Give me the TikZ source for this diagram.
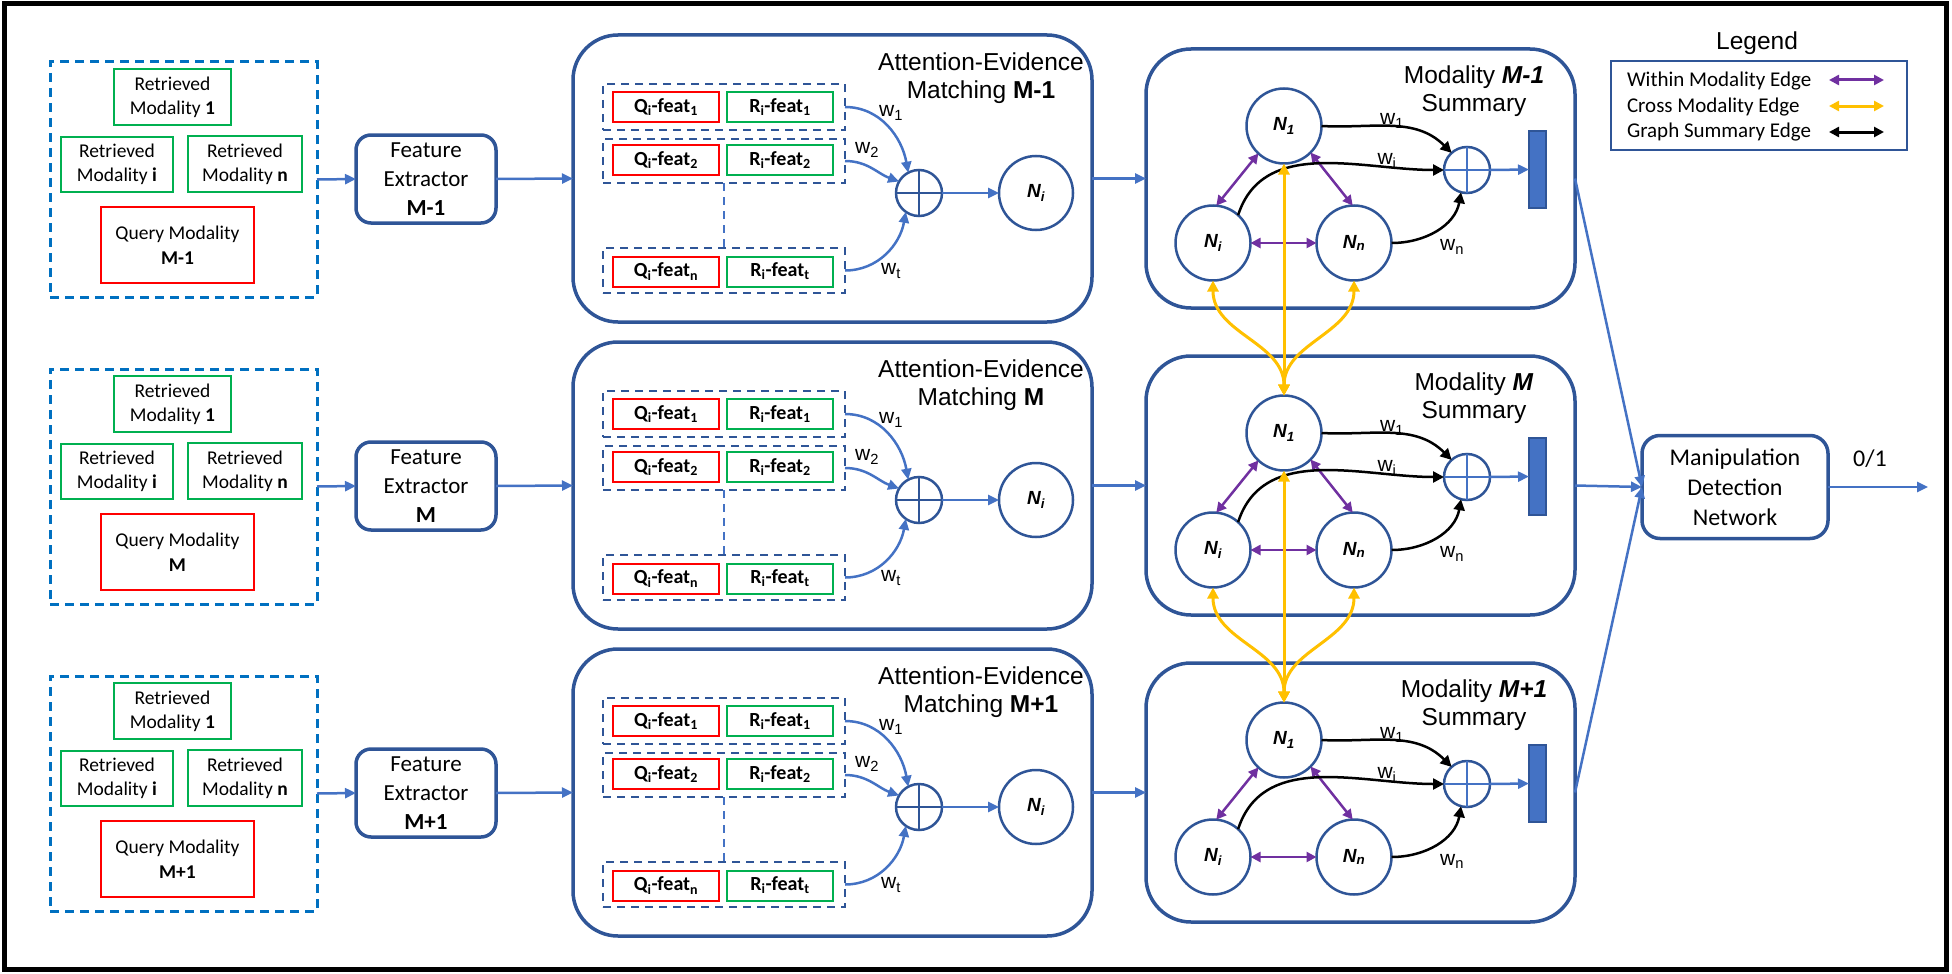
\documentclass[tikz,border=0pt]{standalone}
\usepackage{fontspec}
\setmainfont{Carlito}
\newfontfamily\arial{Liberation Sans}
\usetikzlibrary{arrows.meta}
\definecolor{dblue}{HTML}{2F5597}
\definecolor{ablue}{HTML}{4472C4}
\definecolor{lblue}{HTML}{0070C0}
\definecolor{qred}{HTML}{FF0000}
\definecolor{rgreen}{HTML}{00B050}
\definecolor{purp}{HTML}{7030A0}
\definecolor{yell}{HTML}{FFC000}
\begin{document}
\begin{tikzpicture}[x=1pt,y=1pt,
  every node/.style={inner sep=0pt, outer sep=0pt},
  dbox/.style={draw=lblue, line width=3pt, dash pattern=on 9pt off 6pt, minimum width=267pt, minimum height=235pt},
  gbox/.style={draw=rgreen, line width=2pt, align=center, font=\fontsize{19.5}{24}\selectfont},
  qmbox/.style={draw=qred, line width=2pt, align=center, minimum width=153pt, minimum height=76pt, font=\fontsize{19.5}{25}\selectfont},
  febox/.style={draw=dblue, line width=3.5pt, rounded corners=15pt, minimum width=140pt, minimum height=88pt, align=center, font=\fontsize{23}{29}\selectfont},
  bigbox/.style={draw=dblue, line width=3.5pt, rounded corners=45pt},
  ttl/.style={align=center, font=\arial\fontsize{24.5}{28.5}\selectfont},
  frow/.style={draw=dblue, line width=2.5pt, dash pattern=on 8pt off 6pt, minimum width=242pt},
  qbox/.style={draw=qred, line width=2pt, minimum width=106pt, minimum height=30pt, font=\fontsize{20}{24}\selectfont\bfseries},
  rfbox/.style={draw=rgreen, line width=2pt, minimum width=106pt, minimum height=30pt, font=\fontsize{20}{24}\selectfont\bfseries},
  pluscirc/.style={circle, draw=dblue, line width=2.5pt, minimum size=46pt},
  ncirc/.style={circle, draw=dblue, line width=2.5pt, minimum size=74pt, font=\arial\fontsize{19}{19}\selectfont\bfseries\itshape},
  barrow/.style={draw=ablue, line width=2.5pt, -{Triangle[length=11pt,width=10pt]}},
  karrow/.style={draw=black, line width=2.5pt, -{Triangle[length=11pt,width=11pt]}},
  parrow/.style={draw=purp, line width=2.5pt, {Triangle[length=10pt,width=10pt]}-{Triangle[length=10pt,width=10pt]}},
  yarrow/.style={draw=yell, line width=3pt, {Triangle[length=11pt,width=11pt]}-{Triangle[length=11pt,width=11pt]}},
  larrow/.style={line width=3pt, {Triangle[length=10pt,width=10pt]}-{Triangle[length=10pt,width=10pt]}},
  wlab/.style={font=\arial\fontsize{21}{21}\selectfont},
  ]
\useasboundingbox (0,0) rectangle (1952,-974);
\draw[line width=5pt] (4,-4) rectangle (1946,-969);

\foreach \r/\lab in {0/M-1,1/M,2/M+1}{
\begin{scope}[yshift={-307pt*\r}]
  % input modalities
  \node[dbox] (db\r) at (183.5,-179.5) {};
  \node[gbox, minimum width=117pt, minimum height=56pt] (ra\r) at (172.5,-97) {Retrieved\\Modality \textbf{1}};
  \node[gbox, minimum width=112pt, minimum height=55pt] (rb\r) at (117,-164.5) {Retrieved\\Modality \textbf{i}};
  \node[gbox, minimum width=114pt, minimum height=56pt] (rc\r) at (245,-164) {Retrieved\\Modality \textbf{n}};
  \node[qmbox] (qm\r) at (177.5,-245) {Query Modality\\\textbf{\lab}};
  % feature extractor
  \node[febox] (fe\r) at (426,-179) {Feature\\Extractor\\\textbf{\lab}};
  % attention evidence matching
  \node[bigbox, minimum width=519pt, minimum height=287pt] (att\r) at (832.5,-178.5) {};
  \node[ttl] (at\r) at (981,-78) {Attention-Evidence\\Matching \textbf{\lab}};
  \node[frow, minimum height=46pt] (fa\r) at (724,-107) {};
  \node[frow, minimum height=44pt] (fb\r) at (724,-161) {};
  \node[frow, minimum height=45pt] (fc\r) at (724,-270.5) {};
  \node[qbox] (qa\r) at (666,-107) {Q\textsubscript{i}-feat\textsubscript{1}};
  \node[rfbox] (sa\r) at (780,-107) {R\textsubscript{i}-feat\textsubscript{1}};
  \node[qbox] (qb\r) at (666,-160) {Q\textsubscript{i}-feat\textsubscript{2}};
  \node[rfbox] (sb\r) at (780,-160) {R\textsubscript{i}-feat\textsubscript{2}};
  \node[qbox] (qc\r) at (666,-271.5) {Q\textsubscript{i}-feat\textsubscript{n}};
  \node[rfbox] (sc\r) at (780,-271.5) {R\textsubscript{i}-feat\textsubscript{t}};
  \draw[ablue, line width=2.5pt, dash pattern=on 8pt off 6pt] (fb\r.south) -- (fc\r.north);
  \node[pluscirc] (pl\r) at (919,-193) {};
  \draw[dblue, line width=2.5pt] (pl\r.north) -- (pl\r.south) (pl\r.west) -- (pl\r.east);
  \node[ncirc] (na\r) at (1036,-193) {N\textsubscript{i}};
  \draw[barrow] (fa\r.east) to[out=0,in=100] (pl\r.118);
  \draw[barrow] (fb\r.east) to[out=0,in=160] (pl\r.150);
  \draw[barrow] (fc\r.east) to[out=0,in=-100] (pl\r.235);
  \node[wlab] (wa\r) at (891,-113) {w\textsubscript{1}};
  \node[wlab] (wb\r) at (867,-150) {w\textsubscript{2}};
  \node[wlab] (wc\r) at (891,-271) {w\textsubscript{t}};
  \draw[barrow] (pl\r.east) -- (na\r.west);
  % summary graph
  \node[bigbox, minimum width=429pt, minimum height=259pt] (sum\r) at (1360.5,-178.5) {};
  \node[ttl] (st\r) at (1474,-91) {Modality \textbf{\textit{\lab}}\\Summary};
  \node[ncirc, minimum size=75pt] (nf\r) at (1284,-126) {N\textsubscript{1}};
  \node[ncirc, minimum size=75pt] (ni\r) at (1213,-243) {N\textsubscript{i}};
  \node[ncirc, minimum size=75pt] (nn\r) at (1354,-243) {N\textsubscript{n}};
  \node[pluscirc] (ps\r) at (1467,-170) {};
  \draw[ablue, line width=2.5pt] (ps\r.north) -- (ps\r.south) (ps\r.west) -- (ps\r.east);
  \node[draw=dblue, fill=ablue, line width=1.5pt, minimum width=17pt, minimum height=77pt] (bar\r) at (1537.5,-169.5) {};
  \draw[barrow] (ps\r.east) -- (bar\r.west);
  \draw[parrow] (nf\r.227) -- (ni\r.85);
  \draw[parrow] (nf\r.-45) -- (nn\r.92);
  \draw[parrow] (ni\r.east) -- (nn\r.west);
  \draw[karrow] (nf\r.east) to[out=-3,in=135] (ps\r.132);
  \draw[karrow] (ni\r.48) to[out=72,in=180] (ps\r.west);
  \draw[karrow] (nn\r.east) to[out=0,in=-100] (ps\r.-105);
  \node[wlab] (ka\r) at (1392,-121) {w\textsubscript{1}};
  \node[wlab] (kb\r) at (1387,-161) {w\textsubscript{i}};
  \node[wlab] (kc\r) at (1452,-247) {w\textsubscript{n}};
  % flow
  \draw[barrow] (db\r.east) -- (fe\r.west);
  \draw[barrow] (fe\r.east) -- (att\r.west);
  \draw[barrow] (att\r.east) -- (sum\r.west);
\end{scope}
}

% cross modality edges
\foreach \r/\s in {0/1,1/2}{
  \draw[yarrow] (nf\r.south) -- (nf\s.north);
  \draw[yarrow] (ni\r.south) to[out=-90,in=90] (nf\s.north);
  \draw[yarrow] (nn\r.south) to[out=-90,in=90] (nf\s.north);
}

% detection network
\node[draw=dblue, line width=3.5pt, rounded corners=18pt, minimum width=186pt, minimum height=103pt, align=center, font=\fontsize{24}{30}\selectfont] (mdn) at (1735,-487) {Manipulation\\Detection\\Network};
\foreach \r in {0,1,2}{\draw[barrow] (sum\r.east) -- (mdn.west);}
\coordinate (out) at (1928,-487);
\draw[barrow] (mdn.east) -- (out);
\node[font=\fontsize{24}{24}\selectfont] (ol) at (1870,-459) {0/1};

% legend
\node[font=\arial\fontsize{24.5}{24.5}\selectfont] (lgt) at (1757,-43) {Legend};
\node[draw=dblue, line width=2pt, minimum width=296pt, minimum height=89pt] (lgb) at (1759,-105.5) {};
\node[anchor=west, font=\fontsize{21}{21}\selectfont] (lg1) at (1627,-81) {Within Modality Edge};
\node[anchor=west, font=\fontsize{21}{21}\selectfont] (lg2) at (1627,-107) {Cross Modality Edge};
\node[anchor=west, font=\fontsize{21}{21}\selectfont] (lg3) at (1627,-132) {Graph Summary Edge};
\coordinate (la1) at (1829,-80); \coordinate (lb1) at (1884,-80);
\coordinate (la2) at (1829,-106); \coordinate (lb2) at (1884,-106);
\coordinate (la3) at (1829,-132); \coordinate (lb3) at (1884,-132);
\draw[larrow, purp] (la1) -- (lb1);
\draw[larrow, yell] (la2) -- (lb2);
\draw[larrow, black] (la3) -- (lb3);
\end{tikzpicture}
\end{document}
